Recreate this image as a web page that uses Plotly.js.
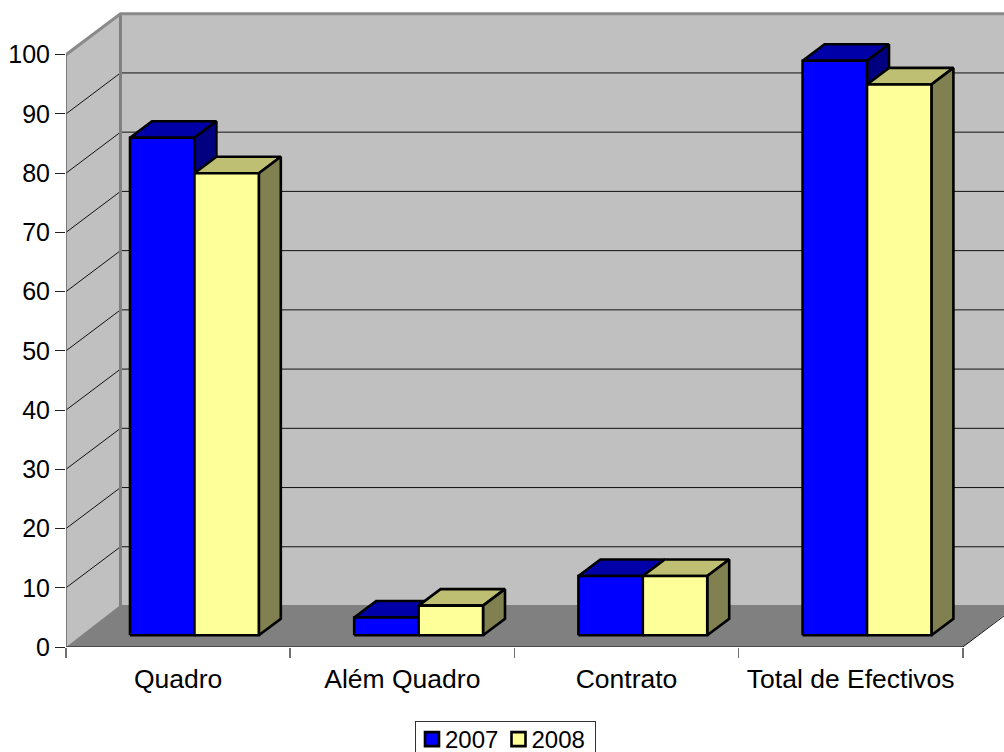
<!DOCTYPE html>
<html><head><meta charset="utf-8">
<script src="https://cdn.plot.ly/plotly-3.0.1.min.js"></script>
<style>html,body{margin:0;padding:0;background:#fff;overflow:hidden}#c{width:1004px;height:752px}</style>
</head><body><div id="c"></div>
<script>
const categories = ['Quadro', 'Além Quadro', 'Contrato', 'Total de Efectivos'];
const values2007 = [84, 3, 10, 97];
const values2008 = [78, 5, 10, 93];
const seriesNames = ['2007', '2008'];
const yTicks = [0,10,20,30,40,50,60,70,80,90,100];

// oblique projection, in axis units
const wallDX = 0.243, wallDY = 6.92;      // depth of floor
const barDX = 0.098, barDY = 2.79;        // depth of a bar
const barStart = 0.2855, barW = 0.2873, barBase = 1.98;
const xMax = 938/224.2, yMax = 635/5.923;

const traces = [];
const base = {type:'scatter', hoverinfo:'skip', showlegend:false, xaxis:'x', yaxis:'y'};
function poly(xs, ys, fill, line, w){
  traces.push(Object.assign({}, base, {x:xs, y:ys, mode:w?'lines':'none', fill:'toself', fillcolor:fill,
    line:{color:line||fill, width:w||0}}));
}
function seg(xs, ys, color, w, noclip){
  traces.push(Object.assign({}, base, {x:xs, y:ys, mode:'lines', line:{color:color, width:w}, cliponaxis:!noclip}));
}
const nCat = categories.length;
// walls and floor
poly([wallDX, xMax+1, xMax+1, wallDX],[wallDY, wallDY, 100+wallDY, 100+wallDY],'#C0C0C0');
poly([0, wallDX, wallDX, 0],[0, wallDY, 100+wallDY, 100],'#C0C0C0');
poly([0, wallDX, nCat+wallDX, nCat],[0, wallDY+0.17, wallDY+0.17, 0],'#808080');
// gridlines
yTicks.slice(1,-1).forEach(v=>{
  seg([0, wallDX],[v, v+wallDY],'#111',1);
  seg([wallDX, xMax+1],[v+wallDY, v+wallDY],'#111',1);
});
// wall edges
seg([wallDX, wallDX],[wallDY, 100+wallDY],'#808080',3);
seg([0, wallDX, xMax+1],[100, 100+wallDY, 100+wallDY],'#8a8a8a',3,true);
seg([0, 0],[0, 100],'#666',1.5,true);
seg([0, nCat],[0, 0],'#111',1.2,true);
seg([nCat, nCat+wallDX],[0, wallDY],'#111',1);

// bars
function series(vals, idx, front, top, side){
  const tx=[],ty=[],sx=[],sy=[],fx=[],fy=[];
  vals.forEach((v,i)=>{
    const l=i+barStart+idx*barW, r=l+barW, b=barBase, h=barBase+v;
    tx.push(l,l+barDX,r+barDX,r,l,null); ty.push(h,h+barDY,h+barDY,h,h,null);
    sx.push(r,r+barDX,r+barDX,r,r,null); sy.push(b,b+barDY,h+barDY,h,b,null);
    fx.push(l,r,r,l,l,null); fy.push(b,b,h,h,b,null);
  });
  poly(tx,ty,top,'#000',2.6);
  poly(sx,sy,side,'#000',2.6);
  poly(fx,fy,front,'#000',2.6);
}
series(values2007,0,'#0000FF','#0000A8','#000080');
series(values2008,1,'#FFFF99','#BFBF73','#808050');

// legend entries
[['#0000FF'],['#FFFF99']].forEach((c,i)=>{
  traces.push({type:'scatter', x:[null], y:[null], xaxis:'x2', yaxis:'y', mode:'markers', name:seriesNames[i],
    hoverinfo:'skip', showlegend:true,
    marker:{symbol:'square', size:14, color:c[0], line:{color:'#000', width:2.6}}});
});

const font = {family:'"Liberation Sans", Arial, sans-serif', size:26.5, color:'#000'};
const yfont = {family:font.family, size:25, color:'#000'};
const layout = {
  width:1004, height:752, paper_bgcolor:'#fff', plot_bgcolor:'#fff', font:font, hovermode:false,
  margin:{l:66, r:0, t:12, b:105, pad:0, autoexpand:false},
  xaxis:{range:[0,xMax], tickmode:'array', tickvals:[0,1,2,3,4], ticktext:['','','','',''],
    ticks:'outside', ticklen:10, tickwidth:1.5, tickcolor:'#707070', showgrid:false, zeroline:false, showline:false, fixedrange:true},
  xaxis2:{range:[0,xMax], overlaying:'x', anchor:'y', side:'bottom', tickmode:'array',
    tickvals:categories.map((c,i)=>i+0.5), ticktext:categories, ticks:'outside', ticklen:8,
    tickcolor:'rgba(0,0,0,0)', tickfont:font, showgrid:false, zeroline:false, showline:false, fixedrange:true},
  yaxis:{range:[0,yMax], tickmode:'array', tickvals:yTicks, ticks:'outside', ticklen:10, tickwidth:1, tickcolor:'#222',
    tickfont:yfont, showgrid:false, zeroline:false, showline:false, fixedrange:true},
  showlegend:true,
  legend:{orientation:'h', x:(404-66)/938, xanchor:'left', y:-(716-647)/635, yanchor:'top',
    entrywidth:41.5, entrywidthmode:'pixels',
    bgcolor:'#fff', bordercolor:'#000', borderwidth:1, font:{family:font.family, size:24, color:'#000'},
    itemclick:false, itemdoubleclick:false, traceorder:'normal'}
};
Plotly.newPlot('c', traces, layout, {displayModeBar:false, staticPlot:true}).then(()=>{
  // tighten the legend box to the reference's compact spacing
  const bg = document.querySelector('.legend .bg');
  bg.setAttribute('x', 11); bg.setAttribute('y', 5);
  bg.setAttribute('width', 180); bg.setAttribute('height', 40);
  bg.style.stroke = '#333';
  const sb = document.querySelector('.legend .scrollbox');
  sb.removeAttribute('clip-path'); sb.style.clipPath = 'none';
  document.querySelectorAll('.legend .legendpoints path').forEach(p=>p.setAttribute('transform','translate(27,0)'));
});
</script></body></html>
